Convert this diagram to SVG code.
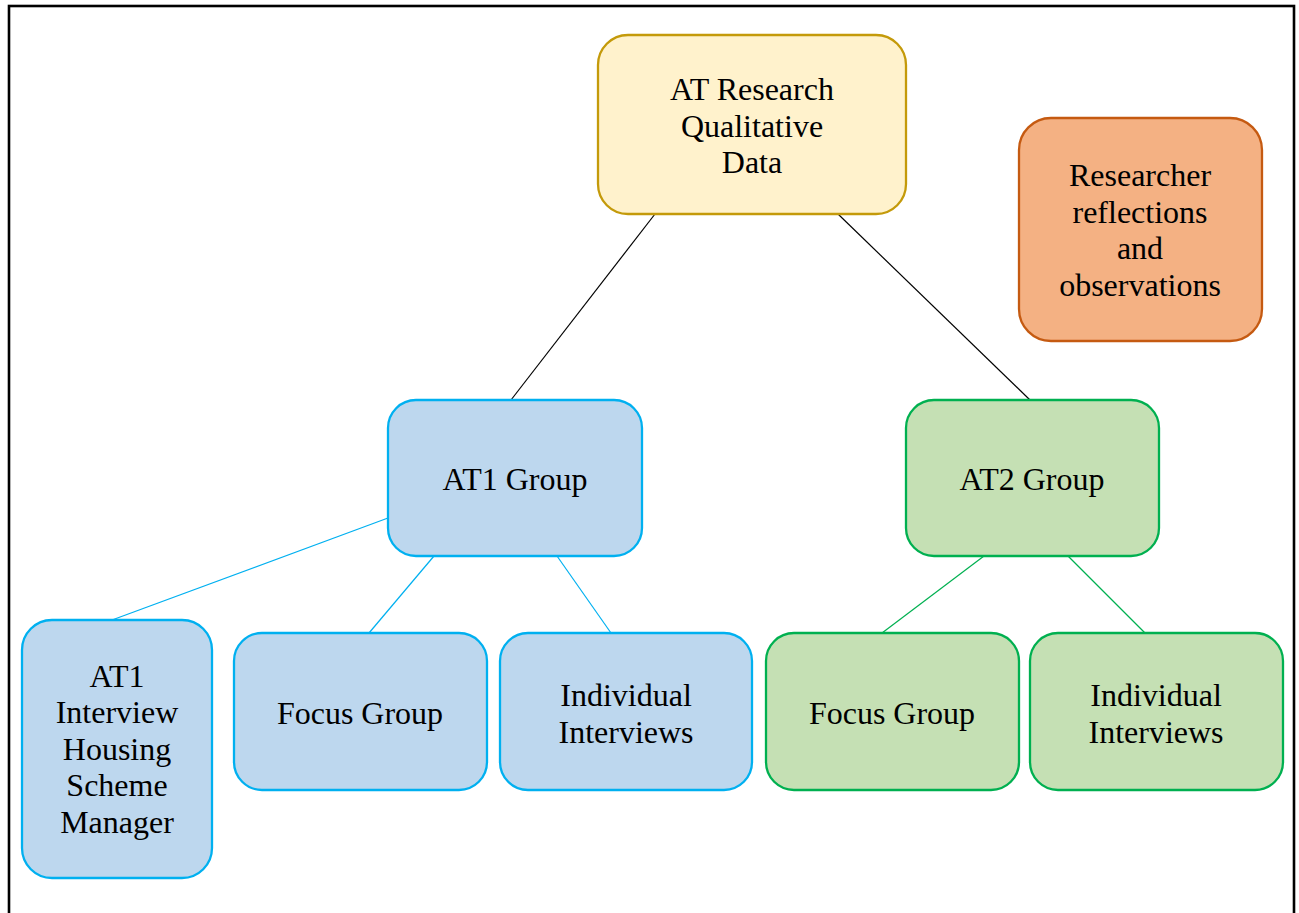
<svg xmlns="http://www.w3.org/2000/svg" width="1299" height="913" viewBox="0 0 1299 913">
<style>
text{font-family:"Liberation Serif","Times New Roman",serif;font-size:32px;fill:#000;text-anchor:middle}
.box{stroke-width:2.3}
.y{fill:#FFF2CC;stroke:#C49A0A}
.o{fill:#F4B183;stroke:#C55A11}
.b{fill:#BDD7EE;stroke:#00B0F0}
.g{fill:#C5E0B4;stroke:#00B050}
.c{fill:none;stroke-width:1.2}
</style>
<rect x="9" y="6" width="1285" height="930" fill="#fff" stroke="#000" stroke-width="2.6"/>
<g id="connectors">
<line class="c" stroke="#000" x1="655" y1="214" x2="511" y2="400"/>
<line class="c" stroke="#000" x1="838" y1="214" x2="1030" y2="400"/>
<line class="c" stroke="#00B0F0" x1="388" y1="518" x2="112" y2="620"/>
<line class="c" stroke="#00B0F0" x1="434" y1="556" x2="369" y2="633"/>
<line class="c" stroke="#00B0F0" x1="557" y1="556" x2="611" y2="633"/>
<line class="c" stroke="#00B050" x1="984" y1="556" x2="882" y2="633"/>
<line class="c" stroke="#00B050" x1="1068" y1="556" x2="1145" y2="633"/>
</g>
<g id="root">
<rect class="box y" x="598" y="35" width="308" height="179" rx="30"/>
<text x="752" y="100">AT Research</text>
<text x="752" y="136.5">Qualitative</text>
<text x="752" y="173">Data</text>
</g>
<g id="researcher">
<rect class="box o" x="1019" y="118" width="243" height="223" rx="32"/>
<text x="1140" y="186">Researcher</text>
<text x="1140" y="222.5">reflections</text>
<text x="1140" y="259">and</text>
<text x="1140" y="295.5">observations</text>
</g>
<g id="at1">
<rect class="box b" x="388" y="400" width="254" height="156" rx="28"/>
<text x="515" y="490">AT1 Group</text>
</g>
<g id="at2">
<rect class="box g" x="906" y="400" width="253" height="156" rx="28"/>
<text x="1032" y="490">AT2 Group</text>
</g>
<g id="at1-interview">
<rect class="box b" x="22" y="620" width="190" height="258" rx="30"/>
<text x="117" y="686.5">AT1</text>
<text x="117" y="723">Interview</text>
<text x="117" y="759.5">Housing</text>
<text x="117" y="796">Scheme</text>
<text x="117" y="832.5">Manager</text>
</g>
<g id="at1-focus">
<rect class="box b" x="234" y="633" width="253" height="157" rx="28"/>
<text x="360" y="724">Focus Group</text>
</g>
<g id="at1-individual">
<rect class="box b" x="500" y="633" width="252" height="157" rx="28"/>
<text x="626" y="706">Individual</text>
<text x="626" y="742.5">Interviews</text>
</g>
<g id="at2-focus">
<rect class="box g" x="766" y="633" width="253" height="157" rx="28"/>
<text x="892" y="724">Focus Group</text>
</g>
<g id="at2-individual">
<rect class="box g" x="1030" y="633" width="253" height="157" rx="28"/>
<text x="1156" y="706">Individual</text>
<text x="1156" y="742.5">Interviews</text>
</g>
</svg>
